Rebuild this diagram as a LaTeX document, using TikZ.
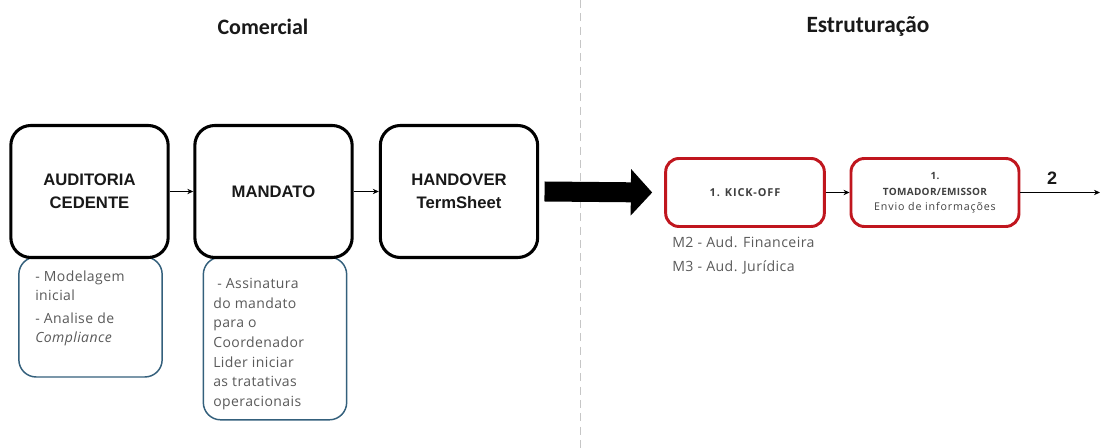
\documentclass[tikz,border=0pt]{standalone}
\usepackage{fontspec}
\setmainfont{Open Sans}
\newfontfamily\headfont{Carlito}
\newfontfamily\arialfont{Liberation Sans}
\newfontfamily\apt[LetterSpace=3]{Open Sans}
\newfontfamily\aptw[LetterSpace=8]{Open Sans}
\usetikzlibrary{arrows.meta}
\definecolor{redb}{RGB}{192,22,30}
\definecolor{blueb}{RGB}{52,96,124}
\definecolor{txtgray}{RGB}{90,90,90}
\definecolor{dgray}{RGB}{64,64,64}
\begin{document}
\begin{tikzpicture}[x=0.75pt,y=-0.75pt,
  mainbox/.style={draw=black, line width=2.3pt, rounded corners=15pt, fill=white,
    minimum width=118pt, minimum height=99pt, align=center, inner sep=0pt,
    font=\arialfont\bfseries\fontsize{12.5}{17}\selectfont, text=black!90},
  subbox/.style={draw=blueb, line width=1.1pt, rounded corners=13pt, fill=white,
    minimum width=107.5pt, inner sep=0pt},
  redbox/.style={draw=redb, line width=2.2pt, rounded corners=10pt, fill=white,
    minimum height=51pt, align=center, inner sep=0pt, text=dgray},
  subtext/.style={anchor=north west, align=left, inner sep=0pt, text=txtgray,
    font=\apt\fontsize{10.5}{14.75}\selectfont},
  heading/.style={font=\headfont\bfseries\fontsize{16.5}{19}\selectfont, text=black!90},
  thinarrow/.style={line width=1.1pt, -{Stealth[length=4.5pt,width=4pt]}},
  bigarrow/.style={line width=15pt, -{Triangle[length=16pt,width=34pt]}},
]
\useasboundingbox (0,0) rectangle (1101,448);

% divider
\coordinate (dtop) at (580,0);
\coordinate (dbot) at (580,448);
\draw[gray!45, line width=0.7pt, dash pattern=on 6pt off 4pt] (dtop) -- (dbot);

% headings
\node[heading] (hcom) at (263,27) {Comercial};
\node[heading, font=\headfont\bfseries\fontsize{17.5}{19}\selectfont] (hest) at (868,27) {Estruturação};

% sub boxes (behind)
\node[subbox, minimum height=90pt] (s1) at (90.5,317) {};
\node[subbox, minimum height=122pt] (s2) at (275,338.5) {};

% main boxes
\node[mainbox] (a) at (89.5,191.5) {AUDITORIA\\CEDENTE};
\node[mainbox] (m) at (273.5,191.5) {MANDATO};
\node[mainbox] (h) at (459,191.5) {HANDOVER\\TermSheet};

% sub texts
\node[subtext] (t1) at (35,271) {- Modelagem\\[-1pt]inicial\\[3pt]- Analise de\\[-1pt]\itshape Compliance};
\node[subtext] (t2) at (213,278) {\ - Assinatura\\do mandato\\para o\\Coordenador\\Lider iniciar\\as tratativas\\operacionais};

% red boxes
\node[redbox, minimum width=119pt] (k) at (745,192.5)
  {\aptw\bfseries\fontsize{8.2}{9}\selectfont 1. KICK-OFF};
\node[redbox, minimum width=126pt] (tm) at (935,192.5)
  {\rule{0pt}{6pt}\apt\bfseries\fontsize{7.5}{12}\selectfont 1.\\ \apt\bfseries\fontsize{7.5}{12}\selectfont TOMADOR/EMISSOR\\[-1pt] \aptw\fontsize{8}{11}\selectfont Envio de informações};

\node[anchor=west, inner sep=0pt, text=txtgray, font=\apt\fontsize{10.6}{12}\selectfont] (m2) at (672,242) {M2 - Aud. Financeira};
\node[anchor=west, inner sep=0pt, text=txtgray, font=\apt\fontsize{10.6}{12}\selectfont] (m3) at (672,267) {M3 - Aud. Jurídica};

% connectors
\draw[thinarrow] (a) -- (m);
\draw[thinarrow] (m) -- (h);
\draw[bigarrow] ([xshift=4pt]h.east) -- ([xshift=-9pt]k.west);
\draw[thinarrow] (k) -- (tm);
\coordinate (e2) at (1100,192.5);
\draw[thinarrow] (tm) -- (e2);
\node[font=\arialfont\bfseries\fontsize{13.5}{16}\selectfont, text=black!90] (n2) at (1052,178) {2};
\end{tikzpicture}
\end{document}
